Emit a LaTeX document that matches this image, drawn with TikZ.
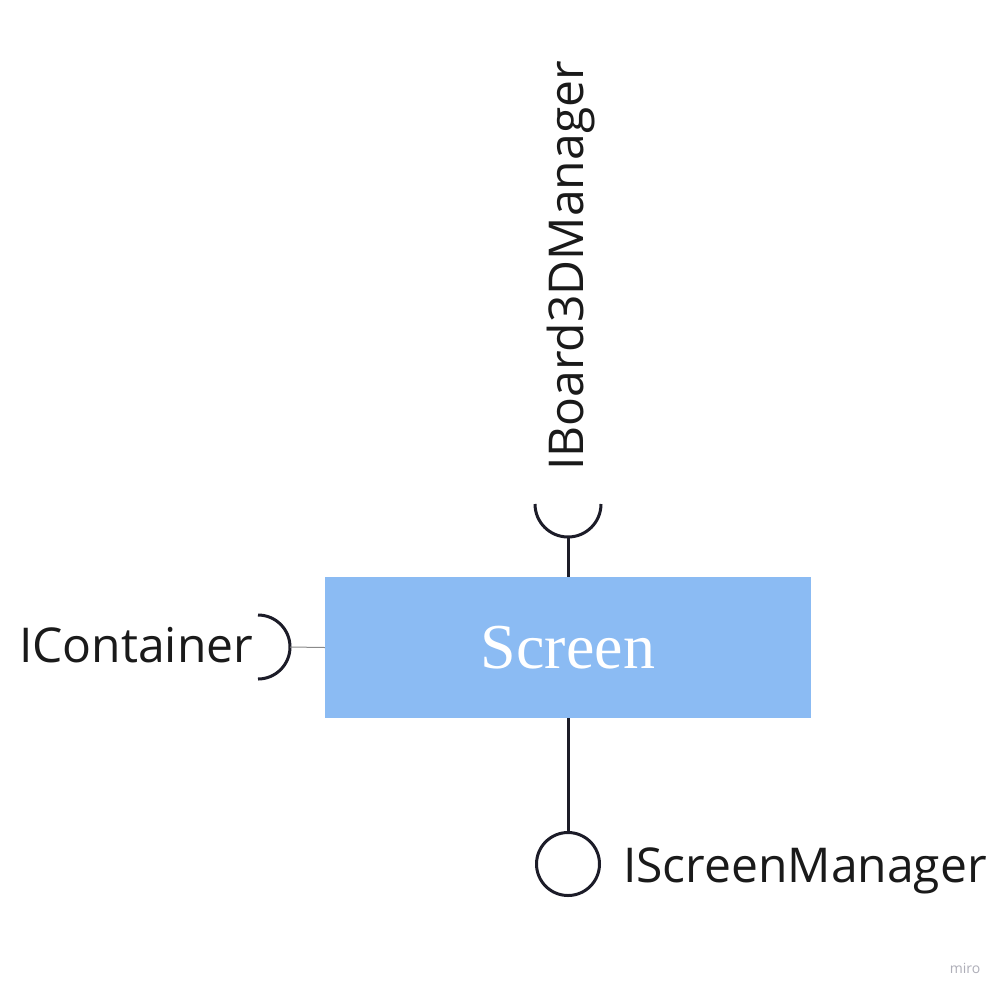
\documentclass[tikz,border=0pt]{standalone}
\usepackage{fontspec}
\setmainfont{Open Sans}
\newfontfamily\screenfont{Liberation Serif}
\definecolor{boxblue}{HTML}{8BBBF3}
\definecolor{ink}{HTML}{1C1C28}
\definecolor{txt}{HTML}{1A1A1A}
\definecolor{thin}{HTML}{8A8A8A}
\definecolor{wm}{HTML}{AEAEB8}
\begin{document}
\begin{tikzpicture}[x=1pt,y=1pt,
  comp/.style={rectangle, fill=boxblue, draw=none, minimum width=486pt, minimum height=141pt, inner sep=0pt,
    text=white, font=\screenfont\fontsize{64}{70}\selectfont},
  iface/.style={inner sep=0pt, text=txt, font=\fontsize{48}{56}\selectfont},
  conn/.style={draw=ink, line width=3pt},
  sock/.style={draw=ink, line width=3pt},
  lolly/.style={circle, draw=ink, line width=3pt, minimum size=63pt, inner sep=0pt}]
\fill[white] (0,0) rectangle (1003,-996);
\useasboundingbox (0,0) rectangle (1003,-996);

\node[comp] (screen) at (568,-647.5) {Screen};

% top required interface
\coordinate (topsock) at (568,-537);
\draw[sock] (535,-504) arc[start angle=180, end angle=360, radius=33];
\draw[conn] (screen.north) -- (topsock);
\node[iface, rotate=90, anchor=base west] (board) at (583,-471) {IBoard3DManager};

% left required interface
\coordinate (leftsock) at (290,-647);
\draw[sock] (258,-615) arc[start angle=90, end angle=-90, radius=32];
\draw[draw=thin, line width=1pt] (leftsock) -- (screen.west);
\node[iface, anchor=base west] (container) at (19,-662) {IContainer};

% bottom provided interface
\node[lolly] (lolli) at (568,-864) {};
\draw[conn] (screen.south) -- (lolli.north);
\node[iface, anchor=base west, font=\fontsize{48}{56}\selectfont] (smgr) at (623,-882) {IScreenManager};

% watermark
\node[text=wm, font=\fontsize{14}{16}\selectfont, inner sep=0pt] (miro) at (965,-968) {miro};
\end{tikzpicture}
\end{document}
